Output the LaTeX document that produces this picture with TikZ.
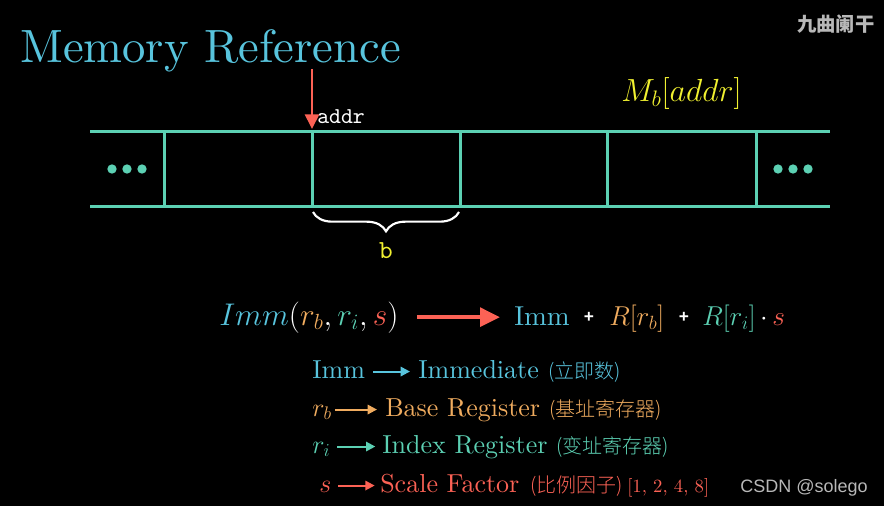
\RequirePackage{fix-cm}
\documentclass[tikz,border=0pt]{standalone}
\usepackage{fontspec}
\setmainfont{lmroman10-regular.otf}
\setmonofont{lmmono10-regular.otf}
\IfFontExistsTF{Noto Sans CJK SC Light}{\newfontfamily\cjk{Noto Sans CJK SC Light}}{%
  \IfFontExistsTF{Noto Sans CJK SC DemiLight}{\newfontfamily\cjk{Noto Sans CJK SC DemiLight}}{\newfontfamily\cjk{Noto Sans CJK SC}}}
\newfontfamily\cjkb{Noto Sans CJK SC}
\newfontfamily\arial{Liberation Sans}
\usetikzlibrary{arrows.meta,decorations.pathreplacing}
\definecolor{mcyan}{HTML}{58C4DD}
\definecolor{mteal}{HTML}{5CD0B3}
\definecolor{mred}{HTML}{FC6255}
\definecolor{morange}{HTML}{F0AC5F}
\definecolor{myellow}{HTML}{F0F030}
\definecolor{wgray}{HTML}{B8B8B8}
\tikzset{
  cell/.style={line width=2.25pt, draw=mteal},
  dotn/.style={circle, fill=mteal, inner sep=0pt, minimum size=7pt},
  lt/.style={inner sep=0pt, anchor=base west, text height=13.6pt, text depth=3.9pt, font=\fontsize{19.5}{23}\selectfont},
  cjkt/.style={inner sep=0pt, anchor=base west, font=\cjk\fontsize{15}{18}\selectfont},
  larr/.style={line width=1.5pt, -{Triangle[length=7pt,width=7pt]}},
  fml/.style={inner sep=0pt, anchor=base west, text=white, font=\fontsize{23.5}{28}\selectfont},
  fml2/.style={inner sep=0pt, anchor=base west, text=white, font=\fontsize{20.5}{24}\selectfont},
  plusn/.style={inner sep=0pt, text=white, font=\arial\bfseries\fontsize{13}{15}\selectfont},
}
\begin{document}
\begin{tikzpicture}[x=0.75pt,y=-0.75pt]
\path[use as bounding box, fill=black] (0,0) rectangle (884,506);

% title
\node[inner sep=0pt, anchor=base west, text=mcyan, font=\fontsize{35}{40}\selectfont] (title) at (20,62.5) {Memory Reference};
\node[inner sep=0pt, anchor=base west, text=myellow, font=\fontsize{24}{28}\selectfont] (mb) at (621,102) {$M_b[addr]$};

% memory strip
\draw[cell] (90,131.5) -- (830,131.5);
\draw[cell] (90,206) -- (830,206);
\foreach \xx in {164,312,460,607,756} \draw[cell] (\xx,131.5) -- (\xx,206);
\node[dotn] (d1) at (112,169) {};
\node[dotn] (d2) at (127,169) {};
\node[dotn] (d3) at (142,169) {};
\node[dotn] (d4) at (778,169) {};
\node[dotn] (d5) at (793,169) {};
\node[dotn] (d6) at (808,169) {};

% addr arrow
\coordinate (atop) at (312,69);
\coordinate (abot) at (312,129);
\draw[mred, line width=2pt, -{Triangle[length=11pt,width=10.5pt]}] (atop) -- (abot);
\node[inner sep=0pt, anchor=base west, text=white, font=\ttfamily\fontsize{17}{20}\selectfont] (addr) at (317,124) {addr};

% brace
\coordinate (bl) at (313,212);
\coordinate (br) at (459,212);
\draw[white, line width=1.6pt, decorate, decoration={brace, amplitude=14.5pt, mirror}] (bl) -- (br);
\node[inner sep=0pt, anchor=base, text=myellow, font=\ttfamily\fontsize{19.5}{23}\selectfont] (blab) at (386,258) {b};

% formula
\node[fml] (fl) at (219,325) {$\textcolor{mcyan}{Imm}\textcolor{white}{(}\textcolor{morange}{r_b}\mathpunct{\textcolor{white}{,}}\textcolor{mteal}{r_i}\mathpunct{\textcolor{white}{,}}\textcolor{mred}{s}\textcolor{white}{)}$};
\node[fml2] (fimm) at (514,325) {\textcolor{mcyan}{Imm}};
\node[plusn] (p1) at (589,317) {+};
\node[fml2] (frb) at (609,325) {$\textcolor{morange}{R[r_b]}$};
\node[plusn] (p2) at (684,317) {+};
\node[fml2] (fri) at (702,325) {$\textcolor{mteal}{R[r_i]}\mskip3mu{\cdot}\mskip3mu\textcolor{mred}{s}$};
\draw[mred, line width=3pt, -{Triangle[length=15pt,width=14pt]}, shorten <=13.5pt, shorten >=10.5pt] (fl.east) -- (fl.east -| fimm.west);

% list
\node[lt, text=mcyan] (l1a) at (312,378) {Imm};
\node[lt, text=mcyan] (l1b) at (418,378) {Immediate};
\node[cjkt, text=mcyan] (l1c) at (548,378) {(立即数)};
\draw[larr, mcyan, shorten <=6pt, shorten >=6pt] (l1a.east) -- (l1a.east -| l1b.west);

\node[lt, text=morange] (l2a) at (312,416) {$r_b$};
\node[lt, text=morange] (l2b) at (385,416) {Base Register};
\node[cjkt, text=morange] (l2c) at (549,416) {(基址寄存器)};
\draw[larr, morange, shorten <=2pt, shorten >=6pt] (l2a.east) -- (l2a.east -| l2b.west);

\node[lt, text=mteal] (l3a) at (312,453) {$r_i$};
\node[lt, text=mteal] (l3b) at (382,453) {Index Register};
\node[cjkt, text=mteal] (l3c) at (556,453) {(变址寄存器)};
\draw[larr, mteal, shorten <=5pt, shorten >=5pt] (l3a.east) -- (l3a.east -| l3b.west);

\node[lt, text=mred] (l4a) at (319,492) {$s$};
\node[lt, text=mred] (l4b) at (380,492) {Scale Factor};
\node[cjkt, text=mred] (l4c) at (530,492) {(比例因子)};
\node[inner sep=0pt, anchor=base west, text=mred, font=\fontsize{14}{17}\selectfont] (l4d) at (627,492) {[1, 2, 4, 8]};
\draw[larr, mred, shorten <=5pt, shorten >=4pt] (l4a.east) -- (l4a.east -| l4b.west);

% watermarks
\node[inner sep=0pt, anchor=base west, text=wgray, font=\cjkb\bfseries\fontsize{14.5}{17}\selectfont] (wm) at (797,32) {九曲阑干};
\node[inner sep=0pt, anchor=base west, text=wgray, font=\arial\fontsize{13.5}{16}\selectfont] (csdn) at (740,492) {CSDN @solego};
\end{tikzpicture}
\end{document}
